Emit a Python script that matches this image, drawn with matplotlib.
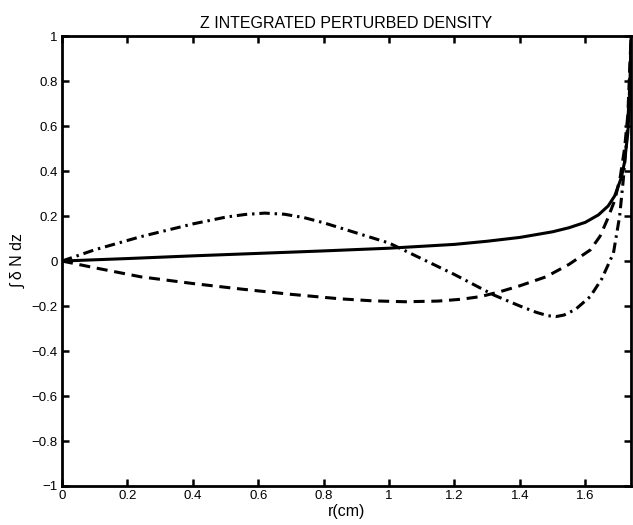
import numpy as np
import matplotlib
matplotlib.use("Agg")
import matplotlib.pyplot as plt

plt.rcParams['font.family'] = ['Liberation Sans', 'DejaVu Sans']

# solid curve
r_solid = [0, 0.2, 0.4, 0.6, 0.8, 1.0, 1.2, 1.3, 1.4, 1.5, 1.55, 1.6, 1.64,
           1.67, 1.69, 1.71, 1.72, 1.73, 1.735, 1.74]
n_solid = [0, 0.011, 0.023, 0.034, 0.045, 0.057, 0.074, 0.088, 0.105, 0.13,
           0.148, 0.172, 0.205, 0.245, 0.29, 0.37, 0.44, 0.57, 0.7, 1.0]

# dashed curve
r_dash = [0, 0.1, 0.24, 0.4, 0.55, 0.7, 0.85, 0.95, 1.05, 1.15, 1.22, 1.28,
          1.34, 1.4, 1.48, 1.55, 1.615, 1.645, 1.666, 1.69, 1.707, 1.72, 1.73, 1.74]
n_dash = [0, -0.03, -0.07, -0.1, -0.125, -0.148, -0.168, -0.177, -0.181,
          -0.178, -0.17, -0.158, -0.136, -0.11, -0.07, -0.015, 0.049, 0.11,
          0.18, 0.27, 0.375, 0.5, 0.65, 1.0]

# dash-dot curve
r_dd = [0, 0.1, 0.24, 0.4, 0.5, 0.56, 0.62, 0.68, 0.74, 0.8, 0.9, 1.0, 1.1,
        1.2, 1.32, 1.4, 1.45, 1.485, 1.51, 1.535, 1.57, 1.615, 1.65, 1.686,
        1.705, 1.716, 1.727, 1.735, 1.74]
n_dd = [0, 0.05, 0.108, 0.165, 0.195, 0.207, 0.213, 0.208, 0.193, 0.17, 0.125,
        0.08, 0.01, -0.06, -0.151, -0.2, -0.228, -0.243, -0.247, -0.24, -0.215,
        -0.158, -0.08, 0.035, 0.2, 0.36, 0.55, 0.75, 1.0]

xticks = [0, 0.2, 0.4, 0.6, 0.8, 1.0, 1.2, 1.4, 1.6]
yticks = [-1, -0.8, -0.6, -0.4, -0.2, 0, 0.2, 0.4, 0.6, 0.8, 1]

fig = plt.figure(figsize=(6.33, 5.25), dpi=100)
ax = fig.add_axes([0.098, 0.0743, 0.899, 0.857])

ax.plot(r_solid, n_solid, color='k', lw=2.2, solid_capstyle='butt')
ax.plot(r_dash, n_dash, color='k', lw=2.2, linestyle=(0, (3.6, 2.2)))
ax.plot(r_dd, n_dd, color='k', lw=2.2, linestyle=(0, (3.4, 1.6, 0.8, 1.6)))

ax.set_xlim(0, 1.74)
ax.set_ylim(-1, 1)
ax.set_xticks(xticks)
ax.set_xticklabels(['0', '0.2', '0.4', '0.6', '0.8', '1', '1.2', '1.4', '1.6'])
ax.set_yticks(yticks)
ax.set_yticklabels(['\u22121', '\u22120.8', '\u22120.6', '\u22120.4', '\u22120.2', '0',
                    '0.2', '0.4', '0.6', '0.8', '1'])
ax.tick_params(direction='in', length=5, width=1.8, top=True, right=True,
               labelsize=9.5, pad=3)
for s in ax.spines.values():
    s.set_linewidth(2)

ax.set_title('Z INTEGRATED PERTURBED DENSITY', fontsize=11.5, pad=6)
ax.set_xlabel('r(cm)', fontsize=11.5, labelpad=1)
ax.set_ylabel('\u222b \u03b4 N dz', fontsize=11.5, labelpad=4)

fig.savefig('out.png', dpi=100)
